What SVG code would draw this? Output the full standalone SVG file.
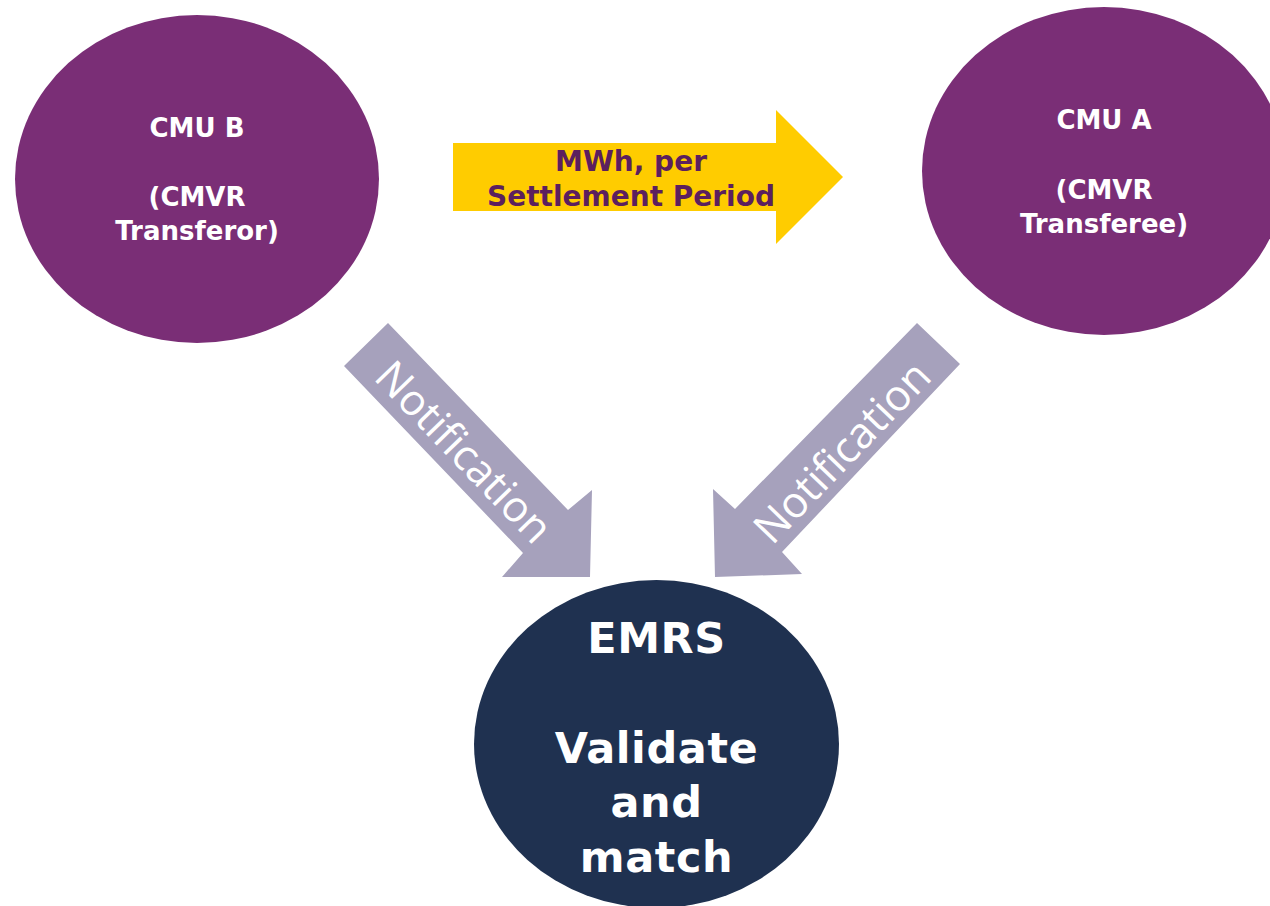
<svg xmlns="http://www.w3.org/2000/svg" width="1270" height="906" viewBox="0 0 1270 906">
  <style>
    .cmu { fill: #7a2e76; }
    .emrs { fill: #1f3150; }
    .lbl { font-family: "DejaVu Sans", Verdana, sans-serif; font-weight: bold; fill: #ffffff; text-anchor: middle; }
    .small { font-size: 26px; }
    .big { font-size: 43px; letter-spacing: 0.6px; }
    .flow { fill: #ffcc00; }
    .flowtxt { font-family: "DejaVu Sans", Verdana, sans-serif; font-weight: bold; font-size: 28px; fill: #5c1f5e; text-anchor: middle; }
    .note { fill: #a6a1bc; }
    .notetxt { font-family: "Open Sans", "Noto Sans", sans-serif; font-weight: normal; font-size: 43px; fill: #ffffff; text-anchor: middle; }
  </style>

  <rect width="1270" height="906" fill="#ffffff"/>

  <g id="connectors">
    <g id="transfer-arrow">
      <polygon class="flow" points="453,143 776,143 776,110 843,177 776,244 776,211 453,211"/>
      <text class="flowtxt" x="631" y="171">MWh, per</text>
      <text class="flowtxt" x="631" y="206">Settlement Period</text>
    </g>
    <g id="notify-b">
      <polygon class="note" points="388,323 568,510 592,490 590,577 502,577 523,553 344,366"/>
      <text class="notetxt" transform="translate(464,452) rotate(46.1)" y="15">Notification</text>
    </g>
    <g id="notify-a">
      <polygon class="note" points="917,323 735,509 713,489 715,577 802,574 782,552 960,364"/>
      <text class="notetxt" transform="translate(842,452) rotate(-46.1)" y="15">Notification</text>
    </g>
  </g>

  <g id="cmu-b">
    <ellipse class="cmu" cx="197" cy="179" rx="182" ry="164"/>
    <text class="lbl small" x="197" y="137">CMU B</text>
    <text class="lbl small" x="197" y="206">(CMVR</text>
    <text class="lbl small" x="197" y="240">Transferor)</text>
  </g>

  <g id="cmu-a">
    <ellipse class="cmu" cx="1104" cy="171" rx="182" ry="164"/>
    <text class="lbl small" x="1104" y="129">CMU A</text>
    <text class="lbl small" x="1104" y="199">(CMVR</text>
    <text class="lbl small" x="1104" y="233">Transferee)</text>
  </g>

  <g id="emrs">
    <ellipse class="emrs" cx="656.5" cy="744" rx="182.5" ry="164"/>
    <text class="lbl big" x="656.5" y="653">EMRS</text>
    <text class="lbl big" x="656.5" y="763">Validate</text>
    <text class="lbl big" x="656.5" y="817">and</text>
    <text class="lbl big" x="656.5" y="872">match</text>
  </g>
</svg>
